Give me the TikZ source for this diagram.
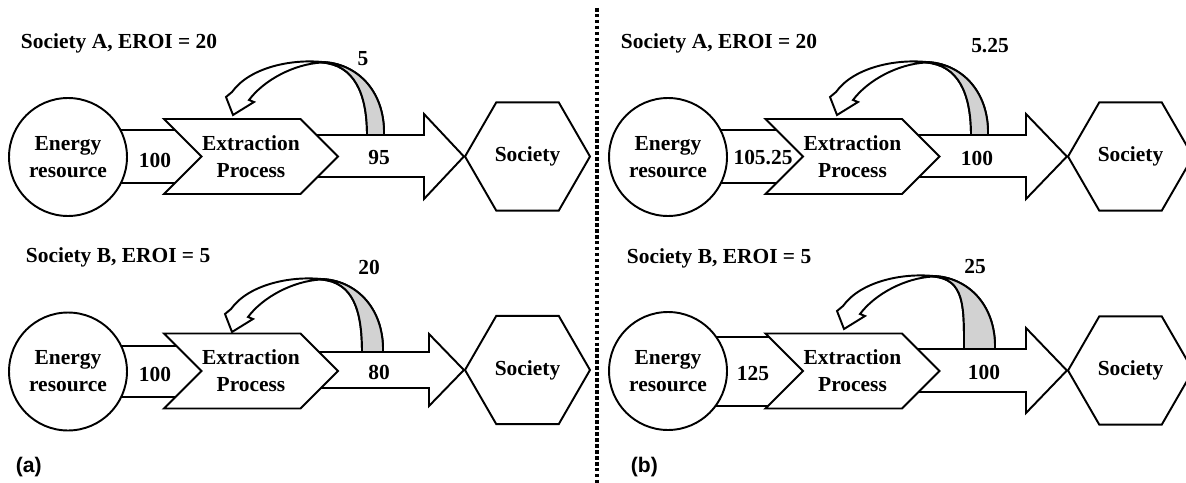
\documentclass[tikz,border=0pt]{standalone}
\usepackage{fontspec}
\setmainfont{Liberation Serif}
\newfontfamily\panelfont{Liberation Sans}
\usetikzlibrary{shapes.geometric, shapes.symbols, backgrounds}

\begin{document}
\begin{tikzpicture}[x=0.02cm, y=-0.02cm, line width=1.1pt,
  font=\bfseries\fontsize{12.2}{15.3}\selectfont,
  resource/.style={draw, circle, fill=white, minimum size=2.36cm, inner sep=0pt, align=center},
  extract/.style={draw, signal, signal from=west, signal to=east, fill=white, minimum width=3.48cm, minimum height=1.5cm, inner sep=0pt, align=center},
  society/.style={draw, regular polygon, regular polygon sides=6, minimum size=2.5cm, inner sep=0pt, fill=white},
  flow/.style={draw, fill=white, line width=1.1pt},
  heading/.style={anchor=west, inner sep=0pt},
  panel/.style={anchor=west, inner sep=0pt, font=\panelfont\bfseries\fontsize{12}{14}\selectfont},
  divider/.style={line width=2pt, dash pattern=on 2pt off 1.4pt},
  pics/feedback/.style={code={
    \draw[fill=white] (0,0) .. controls (1,-45) and (-28,-72) .. (-62,-73)
      .. controls (-92,-76) and (-134,-68) .. (-152,-43) -- (-158,-38) -- (-151,-20)
      -- (-130,-33) -- (-135,-35) .. controls (-120,-55) and (-90,-71) .. (-62,-72.5)
      .. controls (-30,-70) and (-#1,-42) .. (-#1,0) -- cycle;
    \draw[fill=gray!35] (0,0) .. controls (1,-45) and (-28,-72) .. (-62,-73)
      -- (-62,-72.5) .. controls (-30,-70) and (-#1,-42) .. (-#1,0) -- cycle;
  }}]

  \useasboundingbox (0,0) rectangle (1186,483);

  % panel (a)
  \node[heading] (titleA1) at (20,43) {Society A, EROI = 20};
  \node[resource] (res1) at (68,157) {Energy\\resource};
  \node[extract] (ext1) at (251,156.5) {Extraction\\Process};
  \node[society] (soc1) at (527.5,156.5) {Society};
  \begin{scope}[on background layer]
    \draw[flow] (res1.center |- 0,130) rectangle (ext1.center |- 0,183);
    \draw[flow] (ext1.center |- 0,135) -- (424,135) -- (424,114) -- (soc1.west)
      -- (424,199) -- (424,177) -- (ext1.center |- 0,177) -- cycle;
  \end{scope}
  \pic at (384,135) {feedback=17};
  \node (in1) at (155,160) {100};
  \node (out1) at (379,158) {95};
  \node (fb1) at (363,59) {5};

  \node[heading] (titleA2) at (25,257) {Society B, EROI = 5};
  \node[resource] (res2) at (68,371.5) {Energy\\resource};
  \node[extract] (ext2) at (251,371) {Extraction\\Process};
  \node[society] (soc2) at (527.5,370) {Society};
  \begin{scope}[on background layer]
    \draw[flow] (res2.center |- 0,346) rectangle (ext2.center |- 0,397);
    \draw[flow] (ext2.center |- 0,352) -- (429,352) -- (429,334) -- (soc2.west)
      -- (429,406) -- (429,388) -- (ext2.center |- 0,388) -- cycle;
  \end{scope}
  \pic at (383,352) {feedback=21};
  \node (in2) at (155,374) {100};
  \node (out2) at (379,372) {80};
  \node (fb2) at (369,267) {20};

  \node[panel] (labA) at (15,467) {(a)};

  \draw[divider] (597,8) -- (597,483);

  % panel (b)
  \node[heading] (titleB1) at (620,43) {Society A, EROI = 20};
  \node[resource] (res3) at (668,157) {Energy\\resource};
  \node[extract] (ext3) at (852.5,156.5) {Extraction\\Process};
  \node[society] (soc3) at (1130.5,156.5) {Society};
  \begin{scope}[on background layer]
    \draw[flow] (res3.center |- 0,130) rectangle (ext3.center |- 0,183);
    \draw[flow] (ext3.center |- 0,135) -- (1026,135) -- (1026,114) -- (soc3.west)
      -- (1026,199) -- (1026,177) -- (ext3.center |- 0,177) -- cycle;
  \end{scope}
  \pic at (988,135) {feedback=17};
  \node (in3) at (763,158) {105.25};
  \node (out3) at (977,158) {100};
  \node (fb3) at (990,46) {5.25};

  \node[heading] (titleB2) at (626,258) {Society B, EROI = 5};
  \node[resource] (res4) at (668,371) {Energy\\resource};
  \node[extract] (ext4) at (852.5,371) {Extraction\\Process};
  \node[society] (soc4) at (1130.5,370.5) {Society};
  \begin{scope}[on background layer]
    \draw[flow] (res4.center |- 0,337) rectangle (ext4.center |- 0,406);
    \draw[flow] (ext4.center |- 0,349) -- (1026,349) -- (1026,328) -- (soc4.west)
      -- (1026,413) -- (1026,392) -- (ext4.center |- 0,392) -- cycle;
  \end{scope}
  \pic at (995,349) {feedback=31};
  \node (in4) at (753,374) {125};
  \node (out4) at (984,372) {100};
  \node (fb4) at (975,267) {25};

  \node[panel] (labB) at (630,467) {(b)};
\end{tikzpicture}
\end{document}
